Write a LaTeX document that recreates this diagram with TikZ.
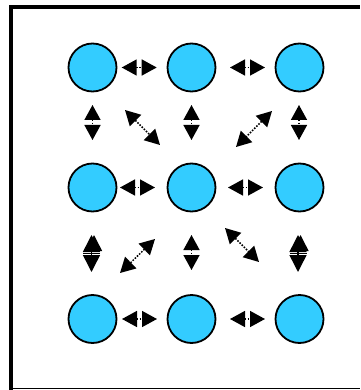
\documentclass[tikz,border=0pt]{standalone}
\usetikzlibrary{arrows.meta}
\definecolor{ballblue}{HTML}{33CCFF}
\begin{document}
\begin{tikzpicture}[x=1pt,y=-1pt,
  ball/.style={circle,draw=black,line width=1.8pt,fill=ballblue,minimum size=48pt,inner sep=0pt},
  link/.style={line width=1.5pt,dash pattern=on 1.5pt off 1.5pt,{Triangle[length=15pt,width=16pt]}-{Triangle[length=15pt,width=16pt]}},
  biglink/.style={line width=1.5pt,{Triangle[length=17pt,width=17pt]}-{Triangle[length=17pt,width=17pt]}},
  extra/.style={line width=1.5pt,-{Triangle[length=16pt,width=16pt]}}]
\useasboundingbox (0,0) rectangle (360,390);
% frame
\draw[line width=4pt] (11,390) -- (11,7) -- (360,7);
\draw[line width=1.2pt] (9,388.6) -- (360,388.6);
% balls
\foreach \c/\x in {1/92.5,2/191.5,3/299.5}{
  \node[ball] (a\c) at (\x,67.5) {};
  \node[ball] (b\c) at (\x,187.5) {};
  \node[ball] (c\c) at (\x,319) {};
}
% arrow end points
\coordinate (ha1s) at (121.7,67.5); \coordinate (ha1e) at (156.7,67.5);
\coordinate (ha2s) at (230,67.5);   \coordinate (ha2e) at (265,67.5);
\coordinate (hb1s) at (120,187.5);  \coordinate (hb1e) at (155,187.5);
\coordinate (hb2s) at (228,187.5);  \coordinate (hb2e) at (263,187.5);
\coordinate (hc1s) at (122,319);    \coordinate (hc1e) at (157,319);
\coordinate (hc2s) at (230,319);    \coordinate (hc2e) at (265,319);
\coordinate (va1s) at (92.5,105);   \coordinate (va1e) at (92.5,140);
\coordinate (va2s) at (191.5,105);  \coordinate (va2e) at (191.5,140);
\coordinate (va3s) at (299,105);    \coordinate (va3e) at (299,140);
\coordinate (vb1s) at (91.5,235);   \coordinate (vb1e) at (91.5,272);
\coordinate (vb2s) at (191.5,235);  \coordinate (vb2e) at (191.5,270);
\coordinate (vb3s) at (298,235);    \coordinate (vb3e) at (298,272);
\coordinate (da1s) at (125,110);    \coordinate (da1e) at (160,145);
\coordinate (da2s) at (272,111);    \coordinate (da2e) at (236,147);
\coordinate (db1s) at (155,239);    \coordinate (db1e) at (120,273);
\coordinate (db2s) at (225,228);    \coordinate (db2e) at (259,262);
% double-headed links
\foreach \n in {ha1,ha2,hb1,hb2,hc1,hc2,va1,va2,va3,vb2,da1,da2,db1,db2}{
  \draw[link] (\n s) -- (\n e);
}
\foreach \n in {vb1,vb3}{
  \draw[biglink] (\n s) -- (\n e);
}
% doubled upper heads on the outer lower links
\draw[extra] ([xshift=2.5pt]vb1s |- 0,251) -- ([xshift=2.5pt]vb1s);
\draw[extra] ([xshift=2.5pt]vb3s |- 0,251) -- ([xshift=2.5pt]vb3s);
\draw[line width=1pt] (83,253) -- (100,253);
\draw[line width=1pt] (290,253) -- (307,253);
\end{tikzpicture}
\end{document}
